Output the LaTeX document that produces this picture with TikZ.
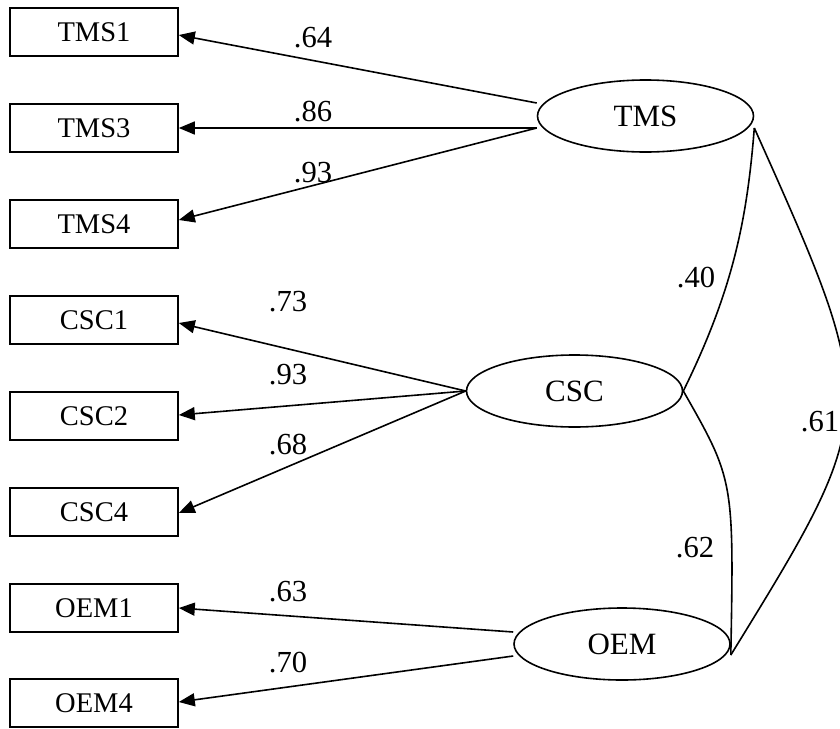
\documentclass[tikz,border=0pt]{standalone}
\usepackage{fontspec}
\setmainfont{Liberation Serif}
\usetikzlibrary{shapes.geometric,arrows.meta,calc}

\begin{document}
\begin{tikzpicture}[x=0.5pt,y=-0.5pt,
  line width=0.8pt,
  indicator/.style={draw, rectangle, minimum width=84pt, minimum height=24pt,
    inner sep=0pt, font=\fontsize{14.25}{16}\selectfont},
  latent/.style={draw, ellipse, minimum width=108pt, minimum height=36pt,
    inner sep=0pt, font=\fontsize{15.5}{18}\selectfont},
  loading/.style={-{Triangle[length=8pt,width=6.5pt]}},
  coef/.style={font=\fontsize{15.3}{18}\selectfont, inner sep=0pt}]
\useasboundingbox (0,0) rectangle (840,728);

% observed indicators
\node[indicator] (TMS1) at (94,32)  {TMS1};
\node[indicator] (TMS3) at (94,128) {TMS3};
\node[indicator] (TMS4) at (94,224) {TMS4};
\node[indicator] (CSC1) at (94,320) {CSC1};
\node[indicator] (CSC2) at (94,416) {CSC2};
\node[indicator] (CSC4) at (94,512) {CSC4};
\node[indicator] (OEM1) at (94,608) {OEM1};
\node[indicator] (OEM4) at (94,703) {OEM4};

% latent factors
\node[latent] (TMS) at (645.5,116) {TMS};
\node[latent] (CSC) at (574.5,391) {CSC};
\node[latent] (OEM) at (622,644)   {OEM};

% factor loadings
\draw[loading] ($(TMS.west)+(0,-13)$) -- ($(TMS1.east)+(0,3)$);
\draw[loading] ($(TMS.west)+(0,12)$)  -- (TMS3.east);
\draw[loading] ($(TMS.west)+(0,12)$)  -- ($(TMS4.east)+(0,-4)$);
\draw[loading] (CSC.west) -- ($(CSC1.east)+(0,3)$);
\draw[loading] (CSC.west) -- ($(CSC2.east)+(0,-1)$);
\draw[loading] (CSC.west) -- ($(CSC4.east)+(0,1)$);
\draw[loading] ($(OEM.west)+(0,-12)$) -- (OEM1.east);
\draw[loading] ($(OEM.west)+(0,12)$)  -- ($(OEM4.east)+(0,-1)$);

\node[coef] (l1) at (313,38)  {.64};
\node[coef] (l2) at (313,112) {.86};
\node[coef] (l3) at (313,173) {.93};
\node[coef] (l4) at (288,302) {.73};
\node[coef] (l5) at (288,375) {.93};
\node[coef] (l6) at (288,445) {.68};
\node[coef] (l7) at (288,592) {.63};
\node[coef] (l8) at (288,663) {.70};

% factor correlations
\coordinate (tmsR) at ($(TMS.east)+(0,12)$);
\coordinate (oemR) at ($(OEM.east)+(0,11)$);
\draw (tmsR) .. controls (747,220) and (733,290) .. (CSC.east);
\draw (CSC.east) .. controls (734,480) .. (oemR);
\draw (tmsR) .. controls (881,411) .. (oemR);

\node[coef] (r1) at (696,278) {.40};
\node[coef] (r2) at (695,548) {.62};
\node[coef] (r3) at (820,422) {.61};
\end{tikzpicture}
\end{document}
